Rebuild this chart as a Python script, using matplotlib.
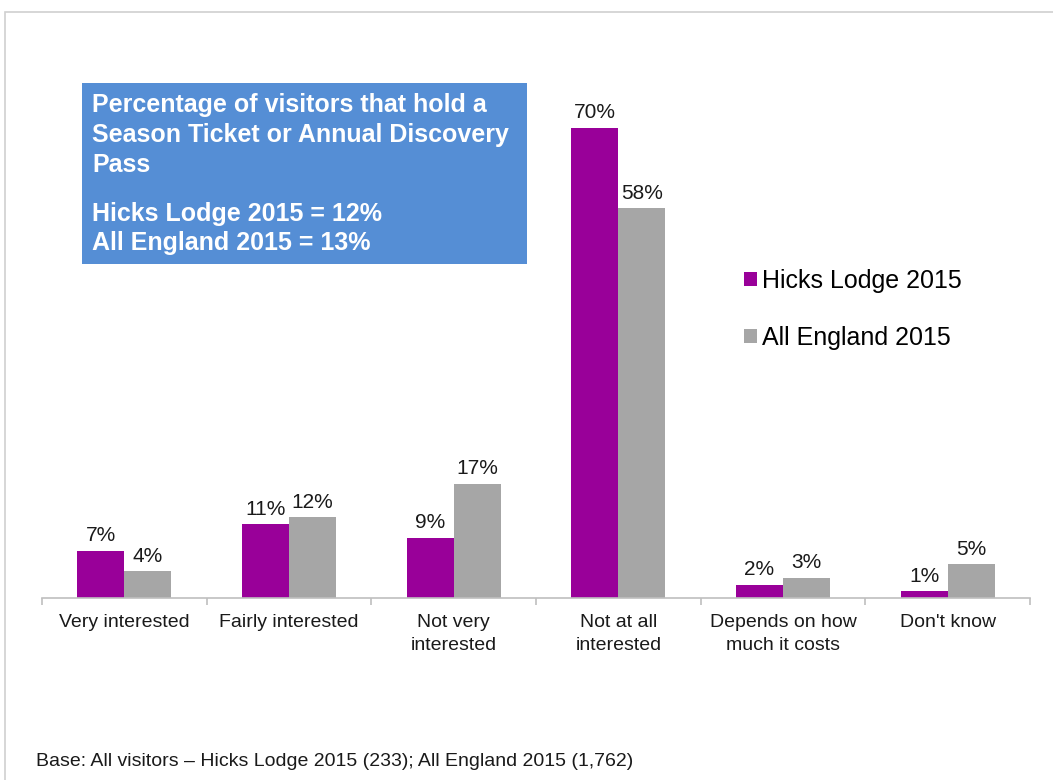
import matplotlib.pyplot as plt
from matplotlib.patches import Rectangle
import numpy as np

plt.rcParams['font.family'] = ['Liberation Sans', 'DejaVu Sans']

categories = ['Very interested', 'Fairly interested', 'Not very\ninterested',
              'Not at all\ninterested', 'Depends on how\nmuch it costs', "Don't know"]
hicks = [7, 11, 9, 70, 2, 1]
england = [4, 12, 17, 58, 3, 5]
series_names = ['Hicks Lodge 2015', 'All England 2015']

purple = '#990099'
grey = '#A6A6A6'
axis_grey = '#BFBFBF'

W, H = 1053, 780
fig = plt.figure(figsize=(W / 100, H / 100), dpi=100)
fig.patch.set_facecolor('white')

# outer frame (runs off the right and bottom edges)
fig.add_artist(Rectangle((5 / W, -0.05), 1.1, (H - 12) / H + 0.05,
                         transform=fig.transFigure, fill=False,
                         edgecolor='#D0D0D0', linewidth=1.2))

# axes: baseline at y=598px, x from 42 to 1030
ax = fig.add_axes([42 / W, (H - 598) / H, (1030 - 42) / W, (598 - 94) / H])
x = np.arange(len(categories))
bw = 0.286
b1 = ax.bar(x - bw / 2, hicks, bw, color=purple, label=series_names[0])
b2 = ax.bar(x + bw / 2, england, bw, color=grey, label=series_names[1])

for bars, vals in ((b1, hicks), (b2, england)):
    for r, v in zip(bars, vals):
        ax.annotate(f'{v}%', (r.get_x() + r.get_width() / 2, v),
                    xytext=(0, 4), textcoords='offset points',
                    ha='center', va='bottom', fontsize=15, color='#1a1a1a')

ax.set_xlim(-0.5, len(categories) - 0.5)
ax.set_ylim(0, 75)
ax.set_yticks([])
for s in ('top', 'right', 'left'):
    ax.spines[s].set_visible(False)
ax.spines['bottom'].set_color(axis_grey)
ax.spines['bottom'].set_linewidth(1.2)

# category boundary ticks
ax.set_xticks(np.arange(len(categories) + 1) - 0.5)
ax.set_xticklabels([])
ax.tick_params(axis='x', length=5, width=1.2, color=axis_grey, direction='out')
for i, c in enumerate(categories):
    ax.text(i, -2.4, c, ha='center', va='top', fontsize=14, color='#1a1a1a',
            linespacing=1.45)

# legend
ax.legend(loc='upper left', bbox_to_anchor=((734 - 42) / (1030 - 42), 1 - (259 - 94) / (598 - 94)),
          frameon=False, fontsize=18, handlelength=0.5, handleheight=0.5,
          handletextpad=0.2, labelspacing=1.3, borderaxespad=0)

# info box
fig.add_artist(Rectangle((82 / W, (H - 264) / H), (527 - 82) / W, (264 - 83) / H,
                         transform=fig.transFigure, facecolor='#558ED5',
                         edgecolor='none'))
box_lines = [('Percentage of visitors that hold a', 105),
             ('Season Ticket or Annual Discovery', 135),
             ('Pass', 165),
             ('Hicks Lodge 2015 = 12%', 214),
             ('All England 2015 = 13%', 243)]
for s, y in box_lines:
    fig.text(92 / W, (H - y) / H, s, color='white', fontsize=18,
             fontweight='bold', ha='left', va='center')

fig.text(36 / W, (H - 761) / H,
         'Base: All visitors \u2013 Hicks Lodge 2015 (233); All England 2015 (1,762)',
         fontsize=14, color='#1a1a1a', ha='left', va='center')

fig.savefig('out.png', dpi=100, facecolor='white')
